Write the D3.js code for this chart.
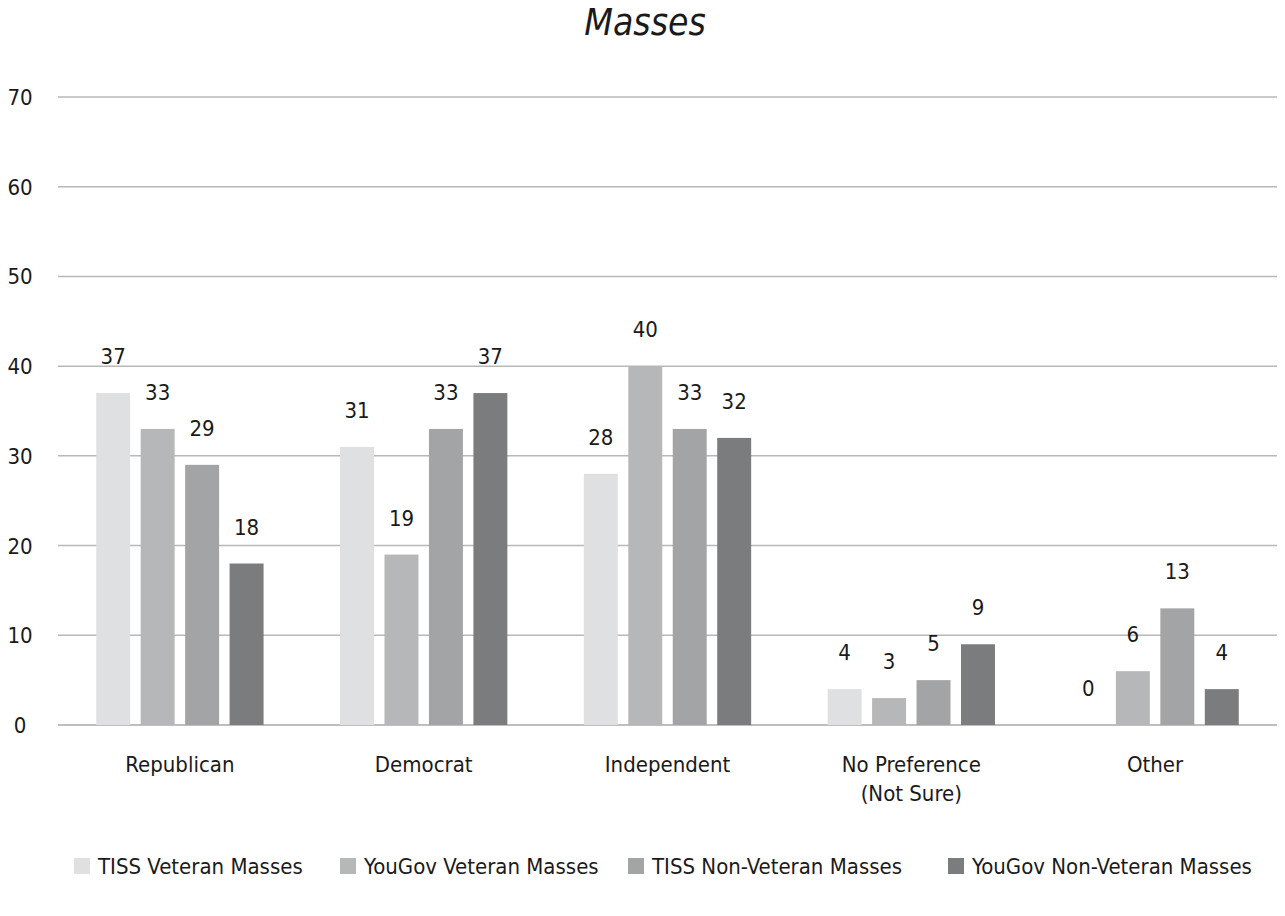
<!DOCTYPE html>
<html><head><meta charset="utf-8">
<script src="https://cdn.jsdelivr.net/npm/d3@7"></script>
<style>
body{margin:0;background:#fff;}
text{font-family:"Liberation Sans Narrow","DejaVu Sans Condensed","Roboto Condensed",sans-serif;fill:#1a1a1a;}
</style></head>
<body><svg id="c" width="1285" height="916"></svg>
<script>
const categories = [["Republican"],["Democrat"],["Independent"],["No Preference","(Not Sure)"],["Other"]];
const seriesNames = ["TISS Veteran Masses","YouGov Veteran Masses","TISS Non-Veteran Masses","YouGov Non-Veteran Masses"];
const tissVeteran = [37,31,28,4,0];
const yougovVeteran = [33,19,40,3,6];
const tissNonVeteran = [29,33,33,5,13];
const yougovNonVeteran = [18,37,32,9,4];
const yTicks = [0,10,20,30,40,50,60,70];
const colors = ["#dfe0e1","#b6b7b8","#a3a4a5","#7b7c7e"];
const series = [tissVeteran,yougovVeteran,tissNonVeteran,yougovNonVeteran];

(function(){
const svg = d3.select("#c");
const mL=58, mR=1277, mT=97, mB=725;
const x = d3.scaleBand().domain(d3.range(categories.length)).range([mL,mR]).paddingInner(0).paddingOuter(0);
const x1 = d3.scaleBand().domain(d3.range(series.length)).range([0,x.bandwidth()]).paddingInner(0.236).paddingOuter(0.86);
const y = d3.scaleLinear().domain([0,70]).range([mB,mT]);

svg.append("text").attr("x",645).attr("y",35).attr("text-anchor","middle")
  .style("font-size","37px").style("font-style","italic").text("Masses");

const grid = svg.append("g");
grid.selectAll("line").data(yTicks).join("line")
  .attr("x1",mL).attr("x2",mR).attr("y1",d=>y(d)).attr("y2",d=>y(d))
  .attr("stroke",d=>d===0?"#a8a8a8":"#b8b8b8").attr("stroke-width",1.5);
grid.selectAll("text").data(yTicks).join("text")
  .attr("x",20).attr("y",d=>y(d)+8).attr("text-anchor","middle")
  .style("font-size","22px").text(d=>d);

const g = svg.append("g");
series.forEach((s,si)=>{
  const gg = g.append("g");
  gg.selectAll("rect").data(s).join("rect")
    .attr("x",(d,i)=>x(i)+x1(si)).attr("width",x1.bandwidth())
    .attr("y",d=>y(d)).attr("height",d=>mB-y(d)).attr("fill",colors[si]);
  gg.selectAll("text").data(s).join("text")
    .attr("x",(d,i)=>x(i)+x1(si)+x1.bandwidth()/2).attr("y",d=>y(d)-29)
    .attr("text-anchor","middle").style("font-size","22px").text(d=>d);
});

const cl = svg.append("g");
categories.forEach((c,i)=>{
  const t = cl.append("text").attr("x",x(i)+x.bandwidth()/2).attr("y",772).attr("text-anchor","middle").style("font-size","22px");
  c.forEach((line,li)=>t.append("tspan").attr("x",x(i)+x.bandwidth()/2).attr("dy",li?29:0).text(line));
});

const legX = [74,340,628,948];
const lg = svg.append("g");
seriesNames.forEach((n,i)=>{
  lg.append("rect").attr("x",legX[i]).attr("y",858).attr("width",16).attr("height",16).attr("fill",colors[i]);
  lg.append("text").attr("x",legX[i]+24).attr("y",874).style("font-size","22px").text(n);
});
})();
</script></body></html>
